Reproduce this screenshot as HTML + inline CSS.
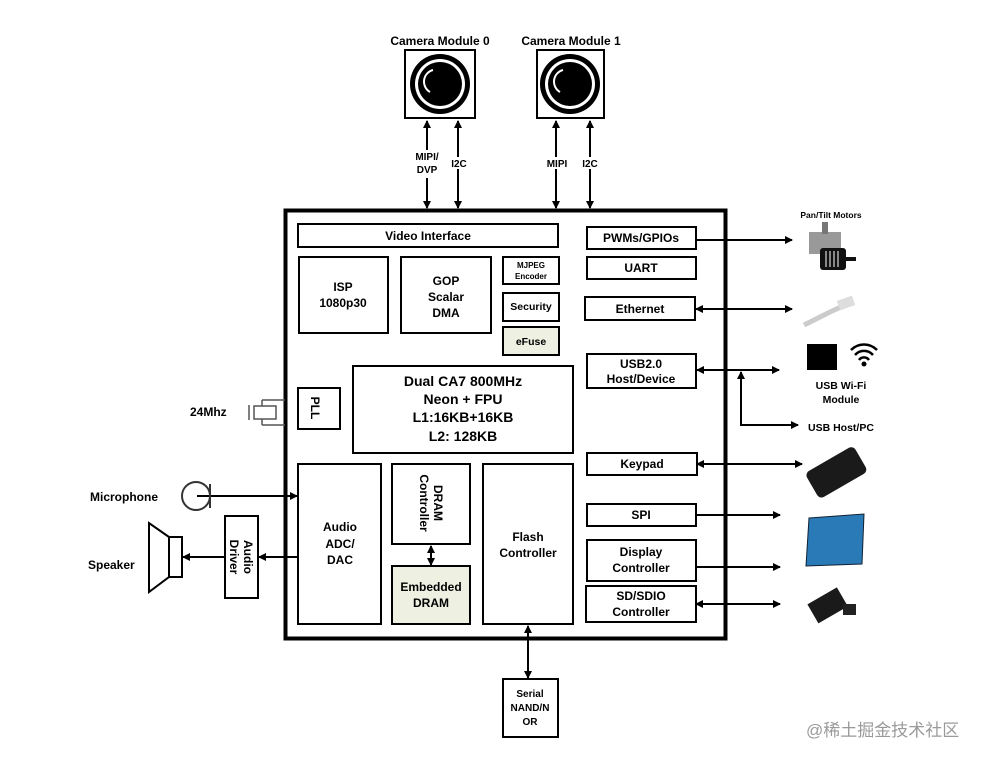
<!DOCTYPE html>
<html><head><meta charset="utf-8"><style>
html,body{margin:0;padding:0;background:#fff;}
svg{display:block;}
text{font-family:"Liberation Sans",Arial,sans-serif;font-weight:bold;fill:#000;}
</style></head><body>
<svg width="988" height="761" viewBox="0 0 988 761" xmlns="http://www.w3.org/2000/svg">
<defs>
<marker id="a" markerWidth="8" markerHeight="8" refX="7" refY="4" orient="auto-start-reverse" markerUnits="userSpaceOnUse"><path d="M0,0 L8,4 L0,8 Z" fill="#000"/></marker>
</defs>
<g fill="none" stroke="#000">
<!-- main box -->
<rect x="285.5" y="210.5" width="440" height="428" stroke-width="4"/>
<g stroke-width="2">
<rect x="298" y="224" width="260" height="23"/>
<rect x="587" y="227" width="109" height="22"/>
<rect x="587" y="257" width="109" height="22"/>
<rect x="585" y="297" width="110" height="23"/>
<rect x="299" y="257" width="89" height="76"/>
<rect x="401" y="257" width="90" height="76"/>
<rect x="503" y="257" width="56" height="27"/>
<rect x="503" y="293" width="56" height="28"/>
<rect x="503" y="327" width="56" height="28" fill="#eef0e2"/>
<rect x="587" y="354" width="109" height="34"/>
<rect x="353" y="366" width="220" height="87"/>
<rect x="298" y="388" width="42" height="41"/>
<rect x="587" y="453" width="110" height="22"/>
<rect x="298" y="464" width="83" height="160"/>
<rect x="392" y="464" width="78" height="80"/>
<rect x="392" y="566" width="78" height="58" fill="#eef0e2"/>
<rect x="483" y="464" width="90" height="160"/>
<rect x="587" y="504" width="109" height="22"/>
<rect x="587" y="540" width="109" height="41"/>
<rect x="586" y="586" width="110" height="36"/>
<rect x="503" y="679" width="55" height="58"/>
<rect x="225" y="516" width="33" height="82"/>
<!-- cameras -->
<rect x="405" y="50" width="70" height="68"/>
<rect x="537" y="50" width="67" height="68"/>
</g>
<g stroke-width="2">
<!-- camera arrows -->
<line x1="427" y1="121" x2="427" y2="208" marker-start="url(#a)" marker-end="url(#a)"/>
<line x1="458" y1="121" x2="458" y2="208" marker-start="url(#a)" marker-end="url(#a)"/>
<line x1="556" y1="121" x2="556" y2="208" marker-start="url(#a)" marker-end="url(#a)"/>
<line x1="590" y1="121" x2="590" y2="208" marker-start="url(#a)" marker-end="url(#a)"/>
<!-- right side -->
<line x1="696" y1="240" x2="792" y2="240" marker-end="url(#a)"/>
<line x1="696" y1="309" x2="792" y2="309" marker-start="url(#a)" marker-end="url(#a)"/>
<line x1="697" y1="370" x2="779" y2="370" marker-start="url(#a)" marker-end="url(#a)"/>
<polyline points="741,372 741,425 798,425" marker-start="url(#a)" marker-end="url(#a)"/>
<line x1="697" y1="464" x2="802" y2="464" marker-start="url(#a)" marker-end="url(#a)"/>
<line x1="696" y1="515" x2="780" y2="515" marker-end="url(#a)"/>
<line x1="696" y1="567" x2="780" y2="567" marker-end="url(#a)"/>
<line x1="696" y1="604" x2="780" y2="604" marker-start="url(#a)" marker-end="url(#a)"/>
<!-- bottom -->
<line x1="528" y1="626" x2="528" y2="678" marker-start="url(#a)" marker-end="url(#a)"/>
<line x1="431" y1="546" x2="431" y2="565" marker-start="url(#a)" marker-end="url(#a)"/>
<!-- left -->
<line x1="197" y1="496" x2="297" y2="496" marker-end="url(#a)"/>
<line x1="297" y1="557" x2="259" y2="557" marker-end="url(#a)"/>
<line x1="225" y1="557" x2="183" y2="557" marker-end="url(#a)"/>
</g>
<!-- microphone -->
<circle cx="196" cy="496" r="14" stroke="#333" stroke-width="2"/>
<line x1="210" y1="484" x2="210" y2="508" stroke="#333" stroke-width="2"/>
<!-- speaker -->
<rect x="169" y="537" width="13" height="40" stroke-width="2"/>
<polygon points="169,537 149,523 149,592 169,577" stroke-width="2"/>
<!-- crystal -->
<g stroke="#555" stroke-width="1.5">
<rect x="254" y="406" width="22" height="13"/>
<line x1="249" y1="405" x2="249" y2="420"/>
<line x1="262" y1="400" x2="285" y2="400"/><line x1="262" y1="400" x2="262" y2="406"/>
<line x1="262" y1="425" x2="285" y2="425"/><line x1="262" y1="419" x2="262" y2="425"/>
</g>
</g>
<!-- camera lenses -->
<g>
<circle cx="440" cy="84" r="30" fill="#000"/><circle cx="440" cy="84" r="25" fill="#fff"/><circle cx="440" cy="84" r="22" fill="#000"/>
<path d="M433,70 A12,12 0 0 0 430,92" stroke="#fff" stroke-width="2" fill="none"/>
<circle cx="570" cy="84" r="30" fill="#000"/><circle cx="570" cy="84" r="25" fill="#fff"/><circle cx="570" cy="84" r="22" fill="#000"/>
<path d="M563,70 A12,12 0 0 0 560,92" stroke="#fff" stroke-width="2" fill="none"/>
</g>
<!-- motor -->
<rect x="809" y="232" width="32" height="22" fill="#999"/>
<rect x="822" y="222" width="6" height="12" fill="#777"/>
<rect x="820" y="248" width="26" height="22" rx="3" fill="#111"/>
<g stroke="#fff" stroke-width="1"><line x1="826" y1="251" x2="826" y2="267"/><line x1="830" y1="251" x2="830" y2="267"/><line x1="834" y1="251" x2="834" y2="267"/><line x1="838" y1="251" x2="838" y2="267"/></g>
<rect x="846" y="257" width="10" height="4" fill="#111"/>
<!-- ethernet -->
<path d="M804,325 L830,312 L845,305" stroke="#ccc" stroke-width="5" fill="none"/>
<rect x="838" y="298" width="16" height="10" fill="#ddd" transform="rotate(-20 846 303)"/>
<!-- wifi chip -->
<rect x="807" y="344" width="30" height="26" fill="#000"/>
<g stroke="#000" stroke-width="2.5" fill="none">
<path d="M851,350 A18,18 0 0 1 877,350"/><path d="M855,355 A12,12 0 0 1 873,355"/><path d="M859,360 A6,6 0 0 1 869,360"/>
</g>
<circle cx="864" cy="364" r="2.5" fill="#000"/>
<!-- keypad -->
<g transform="rotate(-30 835 472)"><rect x="808" y="458" width="56" height="30" rx="5" fill="#1a1a1a"/></g>
<!-- display -->
<polygon points="809,518 864,514 862,564 806,566" fill="#2a7ab8" stroke="#123" stroke-width="1"/>
<!-- SD -->
<g transform="rotate(-30 828 604)"><rect x="810" y="594" width="34" height="22" fill="#1a1a1a"/></g>
<rect x="843" y="604" width="13" height="11" fill="#222"/>
<!-- text -->
<text x="440" y="45" font-size="12" text-anchor="middle">Camera Module 0</text>
<text x="571" y="45" font-size="12" text-anchor="middle">Camera Module 1</text>
<g font-size="10" text-anchor="middle">
<rect x="412" y="150" width="30" height="28" fill="#fff"/>
<text x="427" y="160">MIPI/</text><text x="427" y="173">DVP</text>
<rect x="449" y="157" width="20" height="12" fill="#fff"/><text x="459" y="167">I2C</text>
<rect x="543" y="157" width="28" height="12" fill="#fff"/><text x="557" y="167">MIPI</text>
<rect x="580" y="157" width="20" height="12" fill="#fff"/><text x="590" y="167">I2C</text>
</g>
<g font-size="12" text-anchor="middle">
<text x="428" y="240">Video Interface</text>
<text x="641" y="242">PWMs/GPIOs</text>
<text x="641" y="272">UART</text>
<text x="640" y="313">Ethernet</text>
<text x="343" y="291">ISP</text><text x="343" y="307">1080p30</text>
<text x="446" y="285">GOP</text><text x="446" y="301">Scalar</text><text x="446" y="317">DMA</text>
<text x="531" y="310" font-size="10.5">Security</text>
<text x="531" y="345" font-size="10.5">eFuse</text>
<text x="641" y="368">USB2.0</text><text x="641" y="383">Host/Device</text>
<text x="463" y="386" font-size="14">Dual CA7 800MHz</text>
<text x="463" y="404" font-size="14">Neon + FPU</text>
<text x="463" y="422" font-size="14">L1:16KB+16KB</text>
<text x="463" y="441" font-size="14">L2: 128KB</text>
<text x="642" y="468">Keypad</text>
<text x="340" y="531">Audio</text><text x="340" y="548">ADC/</text><text x="340" y="564">DAC</text>
<text x="431" y="591">Embedded</text><text x="431" y="607">DRAM</text>
<text x="528" y="541">Flash</text><text x="528" y="557">Controller</text>
<text x="641" y="519">SPI</text>
<text x="641" y="556">Display</text><text x="641" y="572">Controller</text>
<text x="641" y="600">SD/SDIO</text><text x="641" y="616">Controller</text>
</g>
<g font-size="8" text-anchor="middle">
<text x="531" y="268">MJPEG</text><text x="531" y="279">Encoder</text>
</g>
<g font-size="10" text-anchor="middle">
<text x="530" y="697">Serial</text><text x="530" y="711">NAND/N</text><text x="530" y="725">OR</text>
</g>
<text font-size="12" text-anchor="middle" transform="translate(315 408) rotate(90)" dy="4">PLL</text>
<text font-size="12" text-anchor="middle" transform="translate(431 503) rotate(90)"><tspan x="0" dy="-3">DRAM</tspan><tspan x="0" dy="14">Controller</tspan></text>
<text font-size="12" text-anchor="middle" transform="translate(241 557) rotate(90)"><tspan x="0" dy="-3">Audio</tspan><tspan x="0" dy="14">Driver</tspan></text>
<text x="190" y="416" font-size="12">24Mhz</text>
<text x="90" y="501" font-size="12">Microphone</text>
<text x="88" y="569" font-size="12">Speaker</text>
<text x="831" y="218" font-size="8.5" text-anchor="middle">Pan/Tilt Motors</text>
<text x="841" y="389" font-size="10.5" text-anchor="middle">USB Wi-Fi</text>
<text x="841" y="403" font-size="10.5" text-anchor="middle">Module</text>
<text x="808" y="431" font-size="10.5">USB Host/PC</text>
<text x="806" y="736" font-size="17" style="font-weight:normal;fill:#9a9a9a;font-family:'Liberation Sans','Noto Sans CJK SC',sans-serif">@稀土掘金技术社区</text>
</svg>
</body></html>
